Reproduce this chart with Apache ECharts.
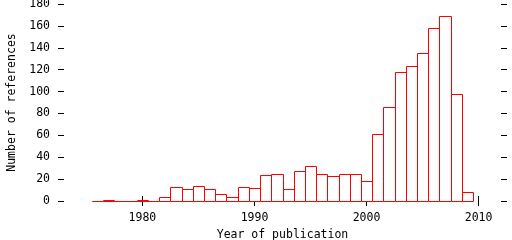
<!DOCTYPE html>
<html>
<head>
<meta charset="utf-8">
<script src="https://cdn.jsdelivr.net/npm/echarts@6/dist/echarts.min.js"></script>
<style>html,body{margin:0;padding:0;background:#fff}#c{width:512px;height:240px}</style>
</head>
<body>
<div id="c"></div>
<script>
const years = [1976,1977,1978,1979,1980,1981,1982,1983,1984,1985,1986,1987,1988,1989,1990,1991,1992,1993,1994,1995,1996,1997,1998,1999,2000,2001,2002,2003,2004,2005,2006,2007,2008,2009];
const counts = [0,1,0,0,1,0,4,13,11,14,11,6,4,13,12,24,25,11,27,32,25,23,25,25,18,61,86,118,123,135,158,169,98,8];
const xTicks = [1980,1990,2000,2010];
const yTicks = [0,20,40,60,80,100,120,140,160,180];

const font = 'DejaVu Sans Mono';
const data = years.map((y,i)=>[y,counts[i]]);
const chart = echarts.init(document.getElementById('c'), null, {renderer:'canvas'});
const tickStyle = {color:'#000', width:1};
chart.setOption({
  animation:false,
  backgroundColor:'#fff',
  grid:{left:64,right:11,top:4,bottom:39,containLabel:false,outerBoundsMode:'none'},
  xAxis:[
    {type:'value',min:1973,max:2012,position:'bottom',
     name:'Year of publication',nameLocation:'middle',nameGap:28,
     nameTextStyle:{fontFamily:font,fontSize:11.5,color:'#000'},
     axisLine:{show:false},splitLine:{show:false},
     axisTick:{show:true,inside:false,length:5,customValues:xTicks,lineStyle:tickStyle},
     axisLabel:{show:true,customValues:xTicks,margin:11,fontFamily:font,fontSize:11.5,color:'#000',
       formatter:function(v){return String(v);}}},
    {type:'value',min:1973,max:2012,position:'top',
     axisLine:{show:false},splitLine:{show:false},
     axisTick:{show:true,inside:false,length:5,customValues:xTicks,lineStyle:tickStyle},
     axisLabel:{show:false}}
  ],
  yAxis:[
    {type:'value',min:yTicks[0],max:yTicks[yTicks.length-1],interval:20,position:'left',
     name:'Number of references',nameLocation:'middle',nameGap:46,
     nameTextStyle:{fontFamily:font,fontSize:11.5,color:'#000'},
     axisLine:{show:false},splitLine:{show:false},
     axisTick:{show:true,inside:false,length:6,lineStyle:tickStyle},
     axisLabel:{show:true,margin:14,fontFamily:font,fontSize:11.5,color:'#000',
       formatter:function(v){return String(v);}}},
    {type:'value',min:yTicks[0],max:yTicks[yTicks.length-1],interval:20,position:'right',
     axisLine:{show:false},splitLine:{show:false},
     axisTick:{show:true,inside:false,length:6,lineStyle:tickStyle},
     axisLabel:{show:false}}
  ],
  series:[{
    type:'custom',xAxisIndex:0,yAxisIndex:0,data:data,
    clip:false,z:5,
    renderItem:function(params,api){
      const x = api.value(0), v = api.value(1);
      const p0 = api.coord([x-0.5, v]);
      const p1 = api.coord([x+0.5, 0]);
      const x0 = Math.round(p0[0])+0.5, x1 = Math.round(p1[0])+0.5;
      const y0 = Math.round(p0[1])+0.5, y1 = Math.round(p1[1])+0.5;
      return {type:'rect',shape:{x:x0,y:y0,width:x1-x0,height:y1-y0},
        style:{fill:'#fff',stroke:'#ff0000',lineWidth:1}};
    }
  }]
});
</script>
</body>
</html>
